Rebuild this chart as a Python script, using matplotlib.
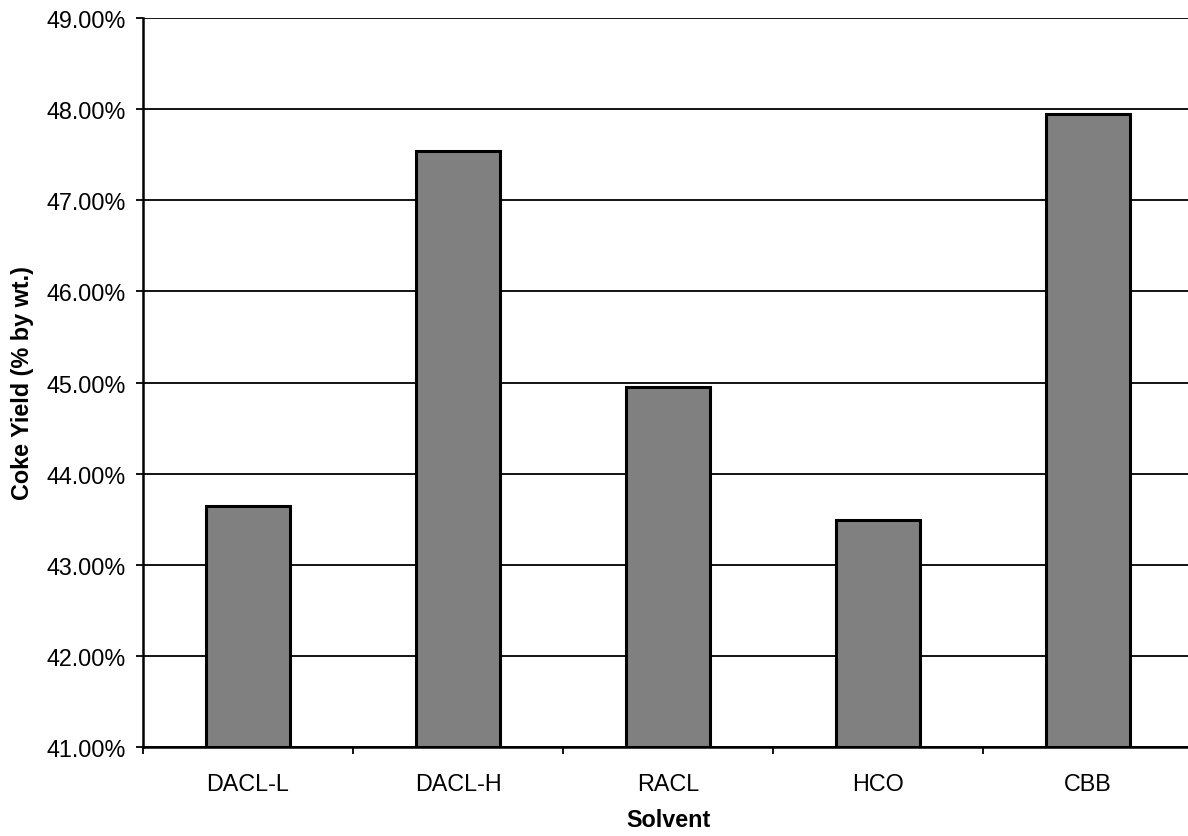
import matplotlib
matplotlib.use("Agg")
import matplotlib.pyplot as plt
from matplotlib.ticker import FuncFormatter, MultipleLocator

# Coke yield by solvent
solvents = ["DACL-L", "DACL-H", "RACL", "HCO", "CBB"]
coke_yield = [43.65, 47.54, 44.95, 43.49, 47.95]  # % by wt.

plt.rcParams["font.family"] = ["Liberation Sans", "DejaVu Sans"]

fig = plt.figure(figsize=(11.88, 8.37), dpi=100)
# plot area runs slightly past the right edge of the canvas
ax = fig.add_axes([0.1204, 0.1063, 0.8838, 0.871])

ymin = 41.0
x = list(range(len(solvents)))
heights = [v - ymin for v in coke_yield]
ax.bar(x, heights, bottom=ymin, width=0.4, color="#808080",
       edgecolor="black", linewidth=2.2, zorder=3)

ax.set_xlim(-0.5, len(solvents) - 0.5)
ax.set_ylim(41, 49)
ax.yaxis.set_major_locator(MultipleLocator(1))
ax.yaxis.set_major_formatter(FuncFormatter(lambda v, p: f"{v:.2f}%"))
ax.grid(axis="y", color="black", linewidth=1.3, zorder=0)

# category labels centred under bars, ticks on category boundaries
ax.set_xticks(x)
ax.set_xticklabels(solvents, fontsize=16.8)
ax.tick_params(axis="x", length=0, pad=18)
ax.set_xticks([i - 0.5 for i in range(len(solvents) + 1)], minor=True)
ax.tick_params(axis="x", which="minor", length=5, width=1.3, direction="out")
ax.tick_params(axis="y", labelsize=16.8, length=5, width=1.3, direction="out", pad=7.5)

for side in ("top", "right"):
    ax.spines[side].set_visible(False)
ax.spines["left"].set_linewidth(1.8)
ax.spines["bottom"].set_linewidth(1.8)

ax.set_xlabel("Solvent", fontsize=16.8, fontweight="bold", labelpad=9)
ax.set_ylabel("Coke Yield (% by wt.)", fontsize=16.8, fontweight="bold", labelpad=9)

fig.savefig("out.png", dpi=100)
